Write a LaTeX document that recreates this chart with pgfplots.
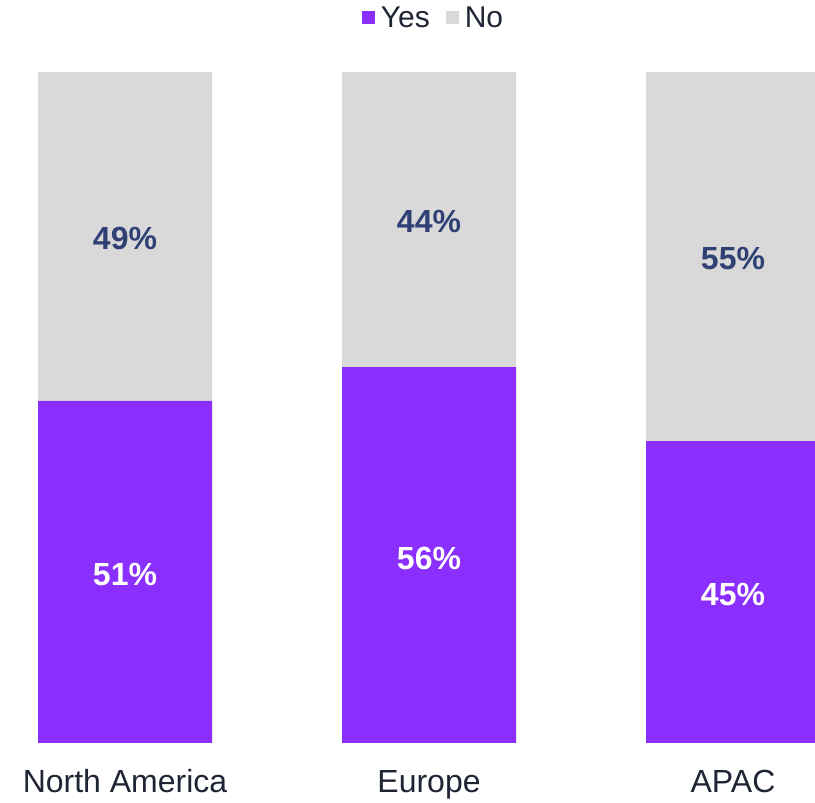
\documentclass[border=0pt]{standalone}
\usepackage{pgfplots}
\usepackage{pgfplotstable}
\pgfplotsset{compat=1.18}
\usepackage{fontspec}
\setmainfont{Liberation Sans}
\definecolor{yescol}{HTML}{8B2FFF}
\definecolor{nocol}{HTML}{D9D9D9}
\definecolor{lblblue}{HTML}{2F4074}
\definecolor{txtdark}{HTML}{1F2535}

\pgfplotstableread{
x yes no
0 51  49
1 56  44
2 45  55
}\regions

\begin{document}
\begin{tikzpicture}
\begin{axis}[
    scale only axis,
    width=815pt, height=671pt,
    bar width=174pt,
    xmin=-0.4112, xmax=2.2697,
    ymin=0, ymax=100,
    xtick={0,1,2},
    xticklabels={North America, Europe, APAC},
    xticklabel style={anchor=base, yshift=-50pt, font=\fontsize{32}{38}\selectfont, text=txtdark},
    ytick=\empty,
    axis line style={draw=none},
    tick style={draw=none},
    legend columns=2,
    reverse legend,
    legend style={at={(0.5,1)}, anchor=center, xshift=26pt, yshift=54pt,
        draw=none, fill=none, font=\fontsize{30}{36}\selectfont, text=txtdark,
        /tikz/every odd column/.append style={column sep=4pt},
        /tikz/every even column/.append style={column sep=14pt}},
    legend image code/.code={\fill[#1] (0pt,-6.5pt) rectangle (13pt,6.5pt);},
]
% No (drawn behind, up to the total)
\addplot[ybar, bar shift=0pt, fill=nocol, draw=none]
    table[x=x, y expr=\thisrow{yes}+\thisrow{no}] {\regions};
% Yes
\addplot[ybar, bar shift=0pt, fill=yescol, draw=none]
    table[x=x, y=yes] {\regions};
\legend{No, Yes}

% value labels, centred in each segment
\addplot[forget plot, draw=none, point meta=explicit symbolic,
    nodes near coords={\pgfplotspointmeta\%},
    every node near coord/.style={anchor=center, yshift=-3pt, text=white,
        font=\fontsize{32}{38}\selectfont\bfseries}]
    table[x=x, y expr=\thisrow{yes}/2, meta=yes] {\regions};
\addplot[forget plot, draw=none, point meta=explicit symbolic,
    nodes near coords={\pgfplotspointmeta\%},
    every node near coord/.style={anchor=center, yshift=-2pt, text=lblblue,
        font=\fontsize{32}{38}\selectfont\bfseries}]
    table[x=x, y expr=\thisrow{yes}+\thisrow{no}/2, meta=no] {\regions};
\end{axis}
\path (current axis.south west) ++(0,-56pt) rectangle ([yshift=72pt]current axis.north east);
\end{tikzpicture}
\end{document}
